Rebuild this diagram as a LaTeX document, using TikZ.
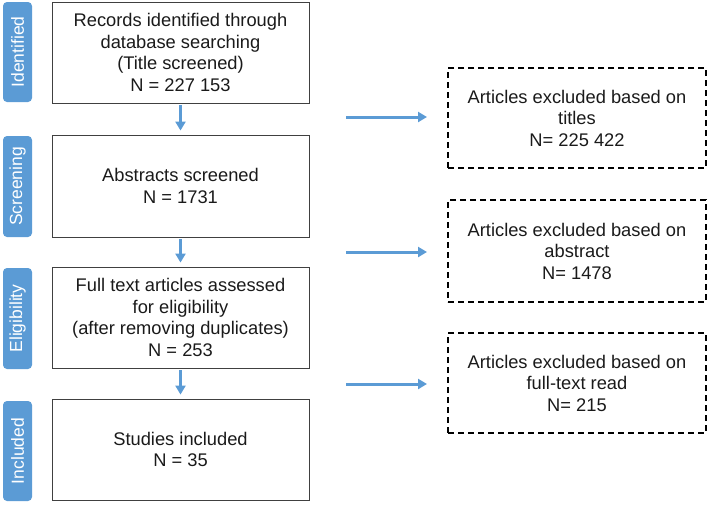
\documentclass[tikz,border=0pt]{standalone}
\usepackage{fontspec}
\setmainfont{Liberation Sans}
\usetikzlibrary{arrows.meta}
\definecolor{stageblue}{HTML}{5B9BD5}
\definecolor{arrowblue}{HTML}{5B9BD5}
\definecolor{boxline}{HTML}{404040}
\definecolor{txt}{HTML}{1A1A1A}
\tikzset{
  mainbox/.style={draw=boxline, line width=0.9pt, minimum width=257pt, minimum height=101pt, align=center, text=txt, font=\fontsize{18.3}{21.5}\selectfont, inner sep=0pt},
  exclbox/.style={draw=black, line width=1.8pt, dash pattern=on 6pt off 4pt, minimum width=258pt, minimum height=100pt, align=center, text=txt, font=\fontsize{18.3}{21.5}\selectfont, inner sep=0pt},
  stagebox/.style={fill=stageblue, draw=none, rounded corners=4pt, rotate=90, text=white, font=\fontsize{17.5}{20}\selectfont, inner sep=0pt},
  flowarrow/.style={draw=arrowblue, line width=3pt, -{Triangle[length=9pt,width=10pt]}}
}
\begin{document}
\begin{tikzpicture}[x=1pt,y=-1pt]
\useasboundingbox (0,0) rectangle (708,504);
% stage labels (rotated: width/height swapped)
\node[stagebox, minimum width=100pt, minimum height=29pt] (s1) at (17.5,52) {Identified};
\node[stagebox, minimum width=101pt, minimum height=29pt] (s2) at (17.5,186.5) {Screening};
\node[stagebox, minimum width=101pt, minimum height=29pt] (s3) at (17.5,318.5) {Eligibility};
\node[stagebox, minimum width=100pt, minimum height=29pt] (s4) at (17.5,451) {Included};
% main boxes
\node[mainbox] (b1) at (180.5,52.5) {Records identified through\\database searching\\(Title screened)\\N = 227 153};
\node[mainbox, minimum height=102pt] (b2) at (180.5,186) {Abstracts screened\\N = 1731};
\node[mainbox] (b3) at (180.5,317.5) {Full text articles assessed\\for eligibility\\(after removing duplicates)\\N = 253};
\node[mainbox] (b4) at (180.5,449.5) {Studies included\\N = 35};
% exclusion boxes
\node[exclbox] (e1) at (577,118) {Articles excluded based on\\titles\\N= 225 422};
\node[exclbox, minimum height=102pt] (e2) at (577,251) {Articles excluded based on\\abstract\\N= 1478};
\node[exclbox] (e3) at (577,383) {Articles excluded based on\\full-text read\\N= 215};
% down arrows
\draw[flowarrow, shorten <=2pt, shorten >=4pt] (b1.south) -- (b2.north);
\draw[flowarrow, shorten <=2pt, shorten >=4pt] (b2.south) -- (b3.north);
\draw[flowarrow, shorten <=2pt, shorten >=4pt] (b3.south) -- (b4.north);
% right arrows
\coordinate (r1a) at (346,117); \coordinate (r1b) at (427,117);
\coordinate (r2a) at (346,252); \coordinate (r2b) at (427,252);
\coordinate (r3a) at (346,384); \coordinate (r3b) at (427,384);
\draw[flowarrow] (r1a) -- (r1b);
\draw[flowarrow] (r2a) -- (r2b);
\draw[flowarrow] (r3a) -- (r3b);
\end{tikzpicture}
\end{document}
